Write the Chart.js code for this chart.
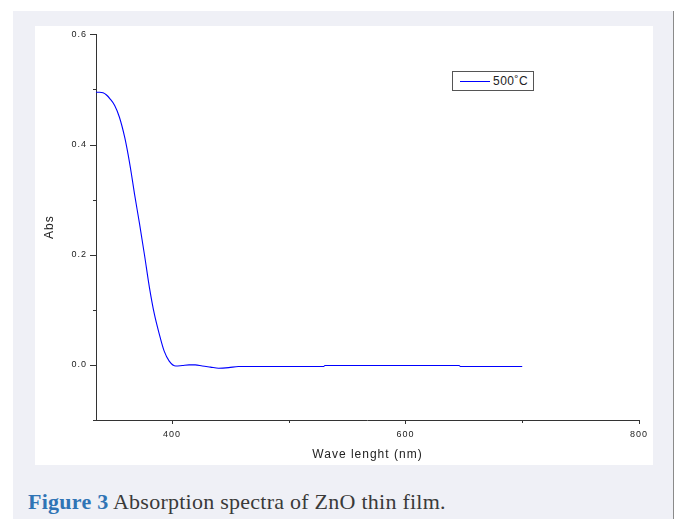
<!DOCTYPE html>
<html>
<head>
<meta charset="utf-8">
<script src="https://cdn.jsdelivr.net/npm/chart.js@4/dist/chart.umd.min.js"></script>
<style>
  body { margin: 0; width: 680px; height: 519px; background: #fff; overflow: hidden; position: relative; }
  #bg { position: absolute; left: 13px; top: 11px; width: 660px; height: 508px; background: #eff0f6; border-right: 1px solid #8a8a8a; }
  #panel { position: absolute; left: 35px; top: 26px; width: 618px; height: 439px; background: #fff; }
  #legend { position: absolute; left: 452px; top: 71px; width: 80px; height: 18px; border: 1px solid #555; background: #fff;
            font: 12px "Liberation Sans", Arial, sans-serif; color: #222; letter-spacing: 0.5px; }
  #legend .ln { position: absolute; left: 7px; top: 9px; width: 30px; height: 1px; }
  #legend .tx { position: absolute; left: 40px; top: 2px; }
  #caption { position: absolute; left: 28px; top: 489px; font: 22px "Liberation Serif", "Times New Roman", serif; letter-spacing: 0.25px; color: #3a3a3a; white-space: nowrap; }
  #caption b { color: #2f74b5; }
</style>
</head>
<body>
<div id="bg"></div>
<div id="panel"><canvas id="myChart" width="618" height="439"></canvas></div>
<div id="legend"></div>
<div id="caption"><b>Figure 3</b> Absorption spectra of ZnO thin film.</div>
<script>
// spectrum
var wavelength = [335, 338, 341, 344, 347, 351, 355, 359.6, 362.4, 365.3, 368, 372.3, 376.5, 380.8, 385, 389.2, 393.4, 397.7, 403.4, 409, 414.7, 420, 426, 433, 440, 448.6, 457, 470, 530, 531, 646, 647, 700];
var absorbance = [0.495, 0.495, 0.494, 0.490, 0.483, 0.471, 0.450, 0.413, 0.383, 0.347, 0.310, 0.256, 0.200, 0.140, 0.092, 0.056, 0.025, 0.007, -0.002, -0.001, 0.000, 0.000, -0.002, -0.004, -0.006, -0.005, -0.003, -0.003, -0.003, -0.001, -0.001, -0.003, -0.003];

var xMajor = [400, 600, 800];
var xMinor = [500, 700];
var yMajor = [0.0, 0.2, 0.4, 0.6];
var yMinor = [-0.1, 0.1, 0.3, 0.5];

var points = wavelength.map(function (w, i) { return { x: w, y: absorbance[i] }; });

function setTicks(major, minor) {
    return function (scale) {
        scale.ticks = major.concat(minor).sort(function (a, b) { return a - b; })
            .map(function (v) { return { value: v, major: major.indexOf(v) >= 0 }; });
    };
}

// letter spacing like the original export
var spacing = {
    id: 'spacing',
    beforeUpdate: function (chart) { chart.ctx.letterSpacing = '1px'; },
    beforeDraw: function (chart) { chart.ctx.letterSpacing = '1px'; }
};

// major and minor tick marks
var tickMarks = {
    id: 'tickMarks',
    afterDraw: function (chart) {
        var ctx = chart.ctx;
        var xs = chart.scales.x, ys = chart.scales.y;
        ctx.save();
        ctx.strokeStyle = '#333';
        ctx.lineWidth = 1;
        ctx.beginPath();
        ys.ticks.forEach(function (t) {
            var y = Math.round(ys.getPixelForValue(t.value)) + 0.5;
            var len = t.major ? 6 : 3;
            ctx.moveTo(ys.right - len, y);
            ctx.lineTo(ys.right, y);
        });
        xs.ticks.forEach(function (t) {
            var x = Math.round(xs.getPixelForValue(t.value)) + 0.5;
            var len = t.major ? 4 : 3;
            ctx.moveTo(x, xs.top);
            ctx.lineTo(x, xs.top + len);
        });
        ctx.stroke();
        ctx.restore();
    }
};

var ctx = document.getElementById('myChart').getContext('2d');
var chart = new Chart(ctx, {
    type: 'line',
    data: {
        datasets: [{
            label: '500\u02DAC',
            data: points,
            borderColor: '#0000ff',
            borderWidth: 1.1,
            pointRadius: 0,
            tension: 0.4,
            cubicInterpolationMode: 'monotone',
            fill: false
        }]
    },
    options: {
        responsive: false,
        animation: false,
        layout: { padding: { left: 0, top: 8, right: 10, bottom: 0 } },
        plugins: { legend: { display: false }, tooltip: { enabled: false } },
        scales: {
            x: {
                type: 'linear',
                min: 335,
                max: 800,
                afterBuildTicks: setTicks(xMajor, xMinor),
                afterFit: function (s) { s.height = 45; },
                border: { display: true, color: '#333', width: 1 },
                grid: { display: true, drawOnChartArea: false, tickLength: 4, tickColor: 'rgba(0,0,0,0)' },
                ticks: {
                    padding: 5,
                    maxRotation: 0,
                    autoSkip: false,
                    color: '#222',
                    font: { family: '"Liberation Sans", Arial, sans-serif', size: 9 },
                    callback: function (v) { return xMajor.indexOf(v) >= 0 ? String(v) : ''; }
                },
                title: {
                    display: true,
                    text: 'Wave lenght (nm)',
                    color: '#222',
                    font: { family: '"Liberation Sans", Arial, sans-serif', size: 12 },
                    padding: { top: 0, bottom: 3 }
                }
            },
            y: {
                min: -0.1,
                max: 0.6,
                afterBuildTicks: setTicks(yMajor, yMinor),
                afterFit: function (s) { s.width = 61; },
                border: { display: true, color: '#333', width: 1 },
                grid: { display: true, drawOnChartArea: false, tickLength: 6, tickColor: 'rgba(0,0,0,0)' },
                ticks: {
                    padding: 3,
                    autoSkip: false,
                    color: '#222',
                    font: { family: '"Liberation Sans", Arial, sans-serif', size: 9 },
                    callback: function (v) { return yMajor.indexOf(v) >= 0 ? v.toFixed(1) : ''; }
                },
                title: {
                    display: true,
                    text: 'Abs',
                    color: '#222',
                    font: { family: '"Liberation Sans", Arial, sans-serif', size: 12 },
                    padding: { top: 7, bottom: 0 }
                }
            }
        }
    },
    plugins: [spacing, tickMarks]
});

// legend box built from the dataset
var ds = chart.data.datasets[0];
document.getElementById('legend').innerHTML =
    '<div class="ln" style="background:' + ds.borderColor + '"></div><div class="tx">' + ds.label + '</div>';
</script>
</body>
</html>
